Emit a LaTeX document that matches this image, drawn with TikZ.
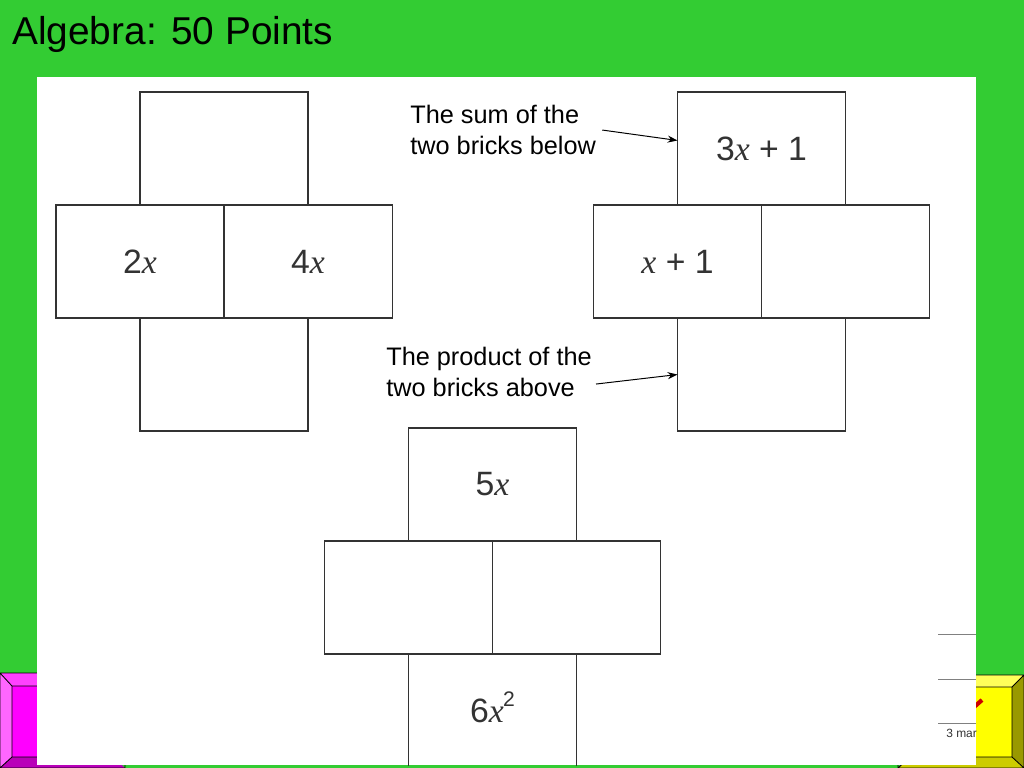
\documentclass[tikz,border=0pt]{standalone}
\usepackage{fontspec}
\setmainfont{Liberation Sans}
\newfontfamily\serifx{Liberation Serif}
\newcommand{\vx}{{\serifx\itshape x}}
\usetikzlibrary{positioning,arrows.meta}
\definecolor{slidegreen}{RGB}{51,204,51}
\definecolor{brickgrey}{RGB}{51,51,51}
\definecolor{magtop}{RGB}{255,64,255}
\definecolor{magleft}{RGB}{255,102,255}
\definecolor{magmid}{RGB}{255,0,255}
\definecolor{magbot}{RGB}{185,0,185}
\definecolor{yeltop}{RGB}{255,255,90}
\definecolor{yelmid}{RGB}{255,255,0}
\definecolor{yelright}{RGB}{153,153,0}
\definecolor{yelbot}{RGB}{204,204,0}
\tikzset{
  brick/.style = {draw=brickgrey, line width=0.8pt, minimum width=4.2cm, minimum height=2.825cm,
    inner sep=0pt, outer sep=0pt, text=brickgrey, font=\fontsize{24}{28}\selectfont},
  note/.style = {align=left, inner sep=0pt, font=\fontsize{18}{22}\selectfont},% labels beside the bricks
}
\begin{document}
\begin{tikzpicture}[x=0.025cm,y=-0.025cm,node distance=0pt,>={Stealth[length=7pt,width=5pt]}]
\fill[slidegreen] (0,0) rectangle (1024,768);
\useasboundingbox (0,0) rectangle (1024,768);
\node[anchor=base west, inner sep=0pt, font=\fontsize{27.6}{33}\selectfont] (title) at (12,45) {Algebra: 50 Points};
% magenta button
\fill[magtop] (0,673) -- (125,673) -- (113,686) -- (12,686) -- cycle;
\fill[magleft] (0,673) -- (12,686) -- (12,757) -- (0,768) -- cycle;
\fill[magbot] (0,768) -- (12,757) -- (113,757) -- (125,768) -- cycle;
\fill[magmid] (12,686) rectangle (113,757);
\draw[line width=0.6pt] (0,673) rectangle (125,768) (12,686) rectangle (113,757)
  (0,673) -- (12,686) (0,768) -- (12,757);
% yellow button
\fill[yeltop] (898,675) -- (1024,675) -- (1012,687) -- (910,687) -- cycle;
\fill[yelright] (1024,675) -- (1012,687) -- (1012,757) -- (1024,768) -- cycle;
\fill[yelbot] (898,768) -- (910,757) -- (1012,757) -- (1024,768) -- cycle;
\fill[yelmid] (910,687) rectangle (1012,757);
\draw[line width=0.6pt] (898,675) rectangle (1024,768) (910,687) rectangle (1012,757)
  (1024,675) -- (1012,687) (1024,768) -- (1012,757) (898,768) -- (910,757);
\draw[red!80!black, line width=3pt] (966,714) -- (982,700);
% white sheet
\fill[white] (37,77) rectangle (976,765);
\begin{scope}
\clip (37,77) rectangle (976,765);
\node[brick] (a2) at (140,261.5) {2\vx};
\node[brick, right=0 of a2] (a3) {4\vx};
\node[brick, above=0 of a2.north east] (a1) {};
\node[brick, below=0 of a2.south east] (a4) {};

\node[brick] (b2) at (677.5,261.5) {\vx{} + 1};
\node[brick, right=0 of b2] (b3) {};
\node[brick, above=0 of b2.north east] (b1) {3\vx{} + 1};
\node[brick, below=0 of b2.south east] (b4) {};

\node[brick] (c2) at (408.5,597.5) {};
\node[brick, right=0 of c2] (c3) {};
\node[brick, above=0 of c2.north east] (c1) {5\vx};
\node[brick, below=0 of c2.south east] (c4) {6\vx\kern-0.5pt\raisebox{0.85ex}[0pt][0pt]{\fontsize{15}{18}\selectfont 2}};

\draw[gray, line width=0.7pt] (938,634) -- (976,634) (938,679) -- (976,679) (938,723) -- (976,723);
\node[anchor=base west, inner sep=0pt, text=brickgrey, font=\fontsize{8.5}{10}\selectfont] (marks) at (946,737) {3 marks};
\end{scope}
\node[note, anchor=north west] (lab1) at (410,105) {The sum of the\\two bricks below};
\node[note, anchor=north west] (lab2) at (386,347) {The product of the\\two bricks above};
\draw[->, line width=0.7pt] ([xshift=1.5mm]lab1.east) -- ([yshift=2mm]b1.west);
\draw[->, line width=0.7pt] ([xshift=1mm,yshift=-3mm]lab2.east) -- (b4.west);
\end{tikzpicture}
\end{document}
